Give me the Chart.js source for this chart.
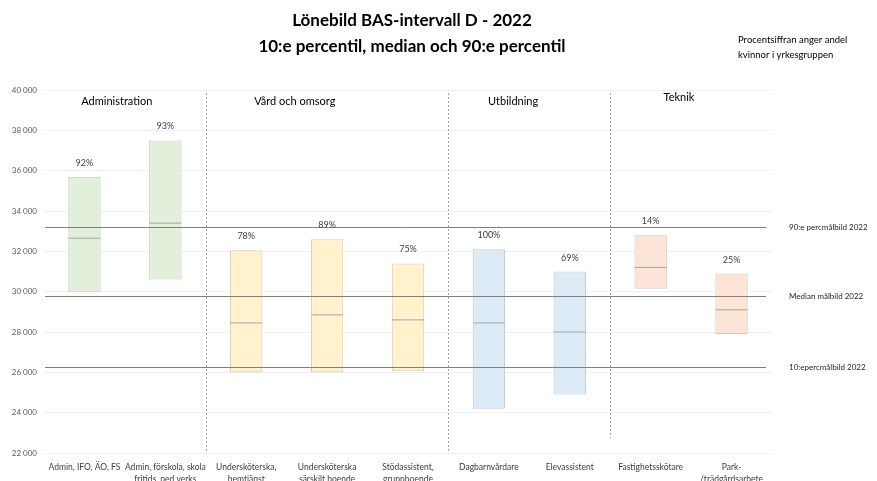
<!DOCTYPE html>
<html>
<head>
<meta charset="utf-8">
<script src="https://cdn.jsdelivr.net/npm/chart.js@4"></script>
<style>
body{margin:0;background:#fff}
#wrap{width:877px;height:481px;position:relative}
</style>
</head>
<body>
<div id="wrap"><canvas id="chart"></canvas></div>
<script>

/* DATA */

const labels = [
["Admin, IFO, ÄO, FS"],
["Admin, förskola, skola","fritids, ped verks"],
["Undersköterska,","hemtjänst"],
["Undersköterska","särskilt boende"],
["Stödassistent,","gruppboende"],
["Dagbarnvårdare"],
["Elevassistent"],
["Fastighetsskötare"],
["Park-","/trädgårdsarbete"]
]

const p10 = [30000,30600,26000,26000,26050,24200,24900,30150,27900]
const median = [32650,33400,28450,28850,28600,28450,28000,31200,29100]
const p90 = [35700,37500,32050,32600,31400,32100,31000,32800,30900]
const womenShare = ["92%","93%","78%","89%","75%","100%","69%","14%","25%"]

const groups = ["Administration","Vård och omsorg","Utbildning","Teknik"]
const groupStart = [0,2,5,7]
const groupEnd = [1,4,6,8]
const groupLabelAt = [0.4,2.6,5.3,7.35]

const refValues = [33200,29800,26270]
const refLabels = ["90:e percmålbild 2022","Median målbild 2022","10:epercmålbild 2022"]

const yTicks = [22000,24000,26000,28000,30000,32000,34000,36000,38000,40000]

/* COLORS */

const fill = ["#e2efda","#e2efda","#fff2cc","#fff2cc","#fff2cc","#ddebf7","#ddebf7","#fce4d6","#fce4d6"]
const edge = ["#c3cdbc","#c3cdbc","#d6cdb2","#d6cdb2","#d6cdb2","#bfc8d2","#bfc8d2","#d3c5bd","#d3c5bd"]

const FONT = "Lato, 'Open Sans', sans-serif"

/* EXTRA DRAWING */

function catPixel(x,pos){
const a = x.getPixelForValue(0)
const b = x.getPixelForValue(1)
return a+(b-a)*pos
}

const extras = {
id:"extras",
beforeDatasetsDraw(chart){
const ctx = chart.ctx
const x = chart.scales.x
const area = chart.chartArea
ctx.save()

// dashed dividers between groups
ctx.strokeStyle = "#a6a6a6"
ctx.lineWidth = 1
ctx.setLineDash([2,2])
for(let i=0;i<groupEnd.length-1;i++){
const px = Math.round(catPixel(x,groupEnd[i]+0.5))+0.5
ctx.beginPath()
ctx.moveTo(px,area.top+3)
ctx.lineTo(px,i==2 ? area.bottom-15 : area.bottom)
ctx.stroke()
}
ctx.setLineDash([])
ctx.restore()
},
afterDatasetsDraw(chart){
const ctx = chart.ctx
const x = chart.scales.x
const y = chart.scales.y
const area = chart.chartArea
ctx.save()

// reference lines
ctx.strokeStyle = "#7f7f7f"
ctx.lineWidth = 1
ctx.font = "8px "+FONT
ctx.fillStyle = "#262626"
ctx.textBaseline = "middle"
ctx.textAlign = "left"
refValues.forEach((v,i)=>{
const py = Math.round(y.getPixelForValue(v))+0.5
ctx.beginPath()
ctx.moveTo(area.left+1,py)
ctx.lineTo(area.right-6,py)
ctx.stroke()
ctx.fillText(refLabels[i],area.right+17,py)
})

// percent labels
ctx.font = "9px "+FONT
ctx.fillStyle = "#404040"
ctx.textAlign = "center"
ctx.textBaseline = "alphabetic"
womenShare.forEach((t,i)=>{
ctx.fillText(t,x.getPixelForValue(i),y.getPixelForValue(p90[i])-11)
})

// group titles
ctx.font = "11px "+FONT
ctx.fillStyle = "#000"
groups.forEach((g,i)=>{
ctx.fillText(g,catPixel(x,groupLabelAt[i]),area.top+(i==3 ? 11 : 15))
})

// title
ctx.font = "bold 17px "+FONT
ctx.fillText("Lönebild BAS-intervall D - 2022",412,26)
ctx.fillText("10:e percentil, median och 90:e percentil",412,52)

// note
ctx.font = "9.5px "+FONT
ctx.textAlign = "left"
ctx.fillText("Procentsiffran anger andel",738,43)
ctx.fillText("kvinnor i yrkesgruppen",738,58)

ctx.restore()
}
}

/* CHART */

new Chart(
document.getElementById("chart"),
{
data:{
labels:labels,
datasets:[
{
type:"bar",
data:p10.map((v,i)=>[v,p90[i]]),
backgroundColor:fill,
borderColor:edge,
borderWidth:1,
borderSkipped:false,
barPercentage:0.4,
categoryPercentage:1,
order:2
},
{
type:"line",
data:median,
showLine:false,
pointStyle:"line",
pointRadius:16,
pointHoverRadius:16,
pointBorderColor:"#a5a5a5",
pointBorderWidth:1,
order:1
}
]
},
options:{
responsive:true,
maintainAspectRatio:false,
animation:false,
layout:{padding:{top:90,right:105,bottom:0,left:0}},
plugins:{legend:{display:false},tooltip:{enabled:false}},
scales:{
x:{
grid:{display:false,drawTicks:false},
border:{display:false},
ticks:{
color:"#404040",
font:{family:FONT,size:8.5,lineHeight:1.4},
padding:8,
maxRotation:0,
autoSkip:false
},
afterFit(scale){scale.height = 28}
},
y:{
min:22000,
max:40000,
afterBuildTicks(scale){scale.ticks = yTicks.map(v=>({value:v}))},
grid:{color:"#f0f0f0",lineWidth:1,drawTicks:false},
border:{display:false},
ticks:{
color:"#595959",
font:{family:FONT,size:8},
padding:7,
callback:v=>String(v).replace(/\B(?=(\d{3})+(?!\d))/g," ")
},
afterFit(scale){scale.width = 44}
}
}
},
plugins:[extras]
}
)

</script>
</body>
</html>
